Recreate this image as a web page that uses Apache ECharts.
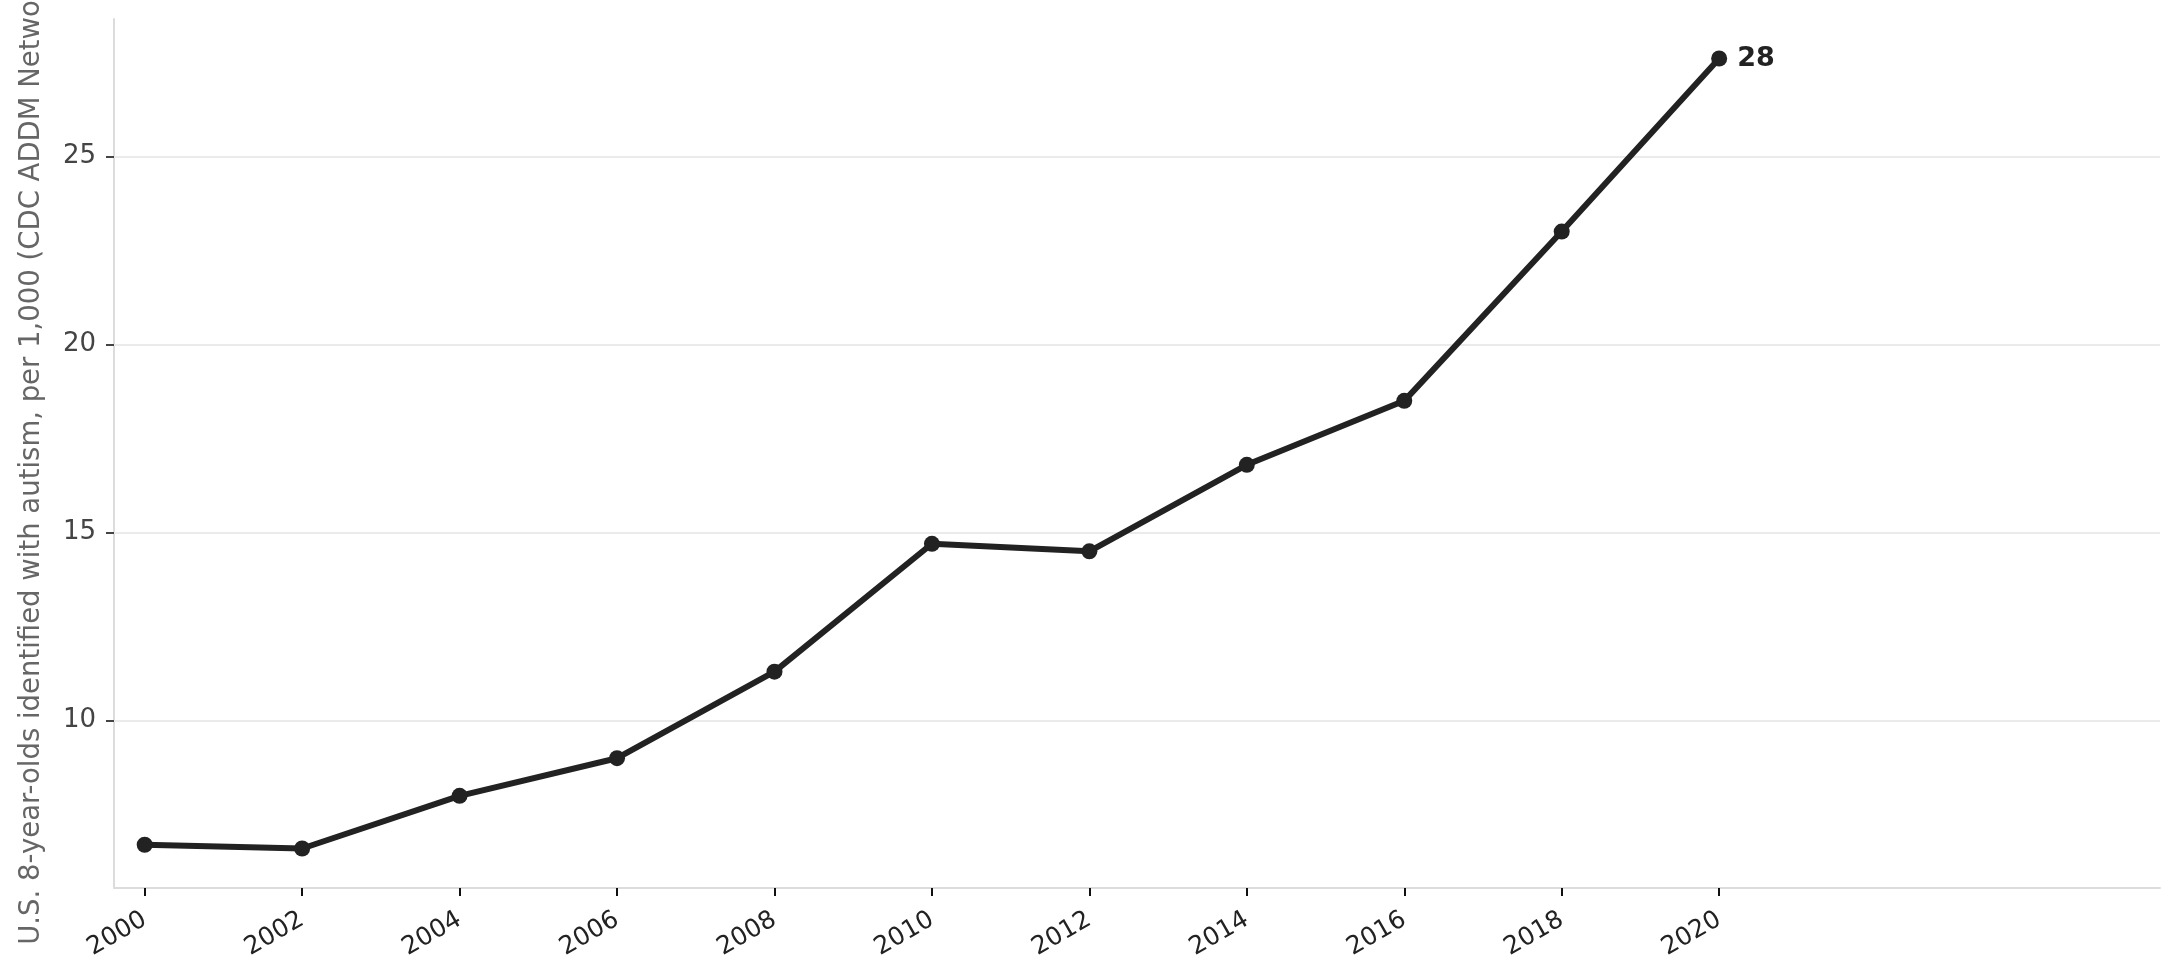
<!DOCTYPE html>
<html>
<head>
<meta charset="utf-8">
<script src="https://cdn.jsdelivr.net/npm/echarts@6/dist/echarts.min.js"></script>
<style>
html,body{margin:0;padding:0;background:#fff;}
#chart{width:2179px;height:980px;}
</style>
</head>
<body>
<div id="chart"></div>
<script>
const years = [2000, 2002, 2004, 2006, 2008, 2010, 2012, 2014, 2016, 2018, 2020];
const prevalence = [6.7, 6.6, 8.0, 9.0, 11.3, 14.7, 14.5, 16.8, 18.5, 23.0, 27.6];
const xTicks = [2000, 2002, 2004, 2006, 2008, 2010, 2012, 2014, 2016, 2018, 2020];
const yTicks = [10, 15, 20, 25];
const yLabel = 'U.S. 8-year-olds identified with autism, per 1,000 (CDC ADDM Network)';

const font = 'DejaVu Sans';
const seriesData = years.map((y, i) => {
  const item = { value: [y, prevalence[i]] };
  if (i === years.length - 1) {
    item.label = {
      show: true, position: 'right', distance: 10,
      formatter: p => String(Math.round(p.value[1])),
      fontFamily: font, fontSize: 27, fontWeight: 'bold', color: '#222'
    };
  }
  return item;
});

const chart = echarts.init(document.getElementById('chart'), null, { renderer: 'canvas' });
chart.setOption({
  animation: false,
  backgroundColor: '#fff',
  grid: { left: 114, right: 19, top: 19, bottom: 92, containLabel: false, outerBoundsMode: 'none' },
  xAxis: {
    type: 'value', min: 1999.61, max: 2025.6,
    splitLine: { show: false },
    axisLine: { show: true, lineStyle: { color: '#dcdcdc', width: 2 } },
    axisTick: { show: true, customValues: xTicks, length: 8, lineStyle: { color: '#111', width: 2 } },
    axisLabel: { customValues: xTicks, rotate: 30, margin: 30, fontFamily: font, fontSize: 25, color: '#222',
                 formatter: v => String(v) }
  },
  yAxis: {
    type: 'value', min: 5.55, max: 28.65,
    name: yLabel, nameLocation: 'middle', nameRotate: 90, nameGap: 68,
    nameTextStyle: { fontFamily: font, fontSize: 27.5, color: '#666' },
    splitLine: { show: false },
    axisLine: { show: true, lineStyle: { color: '#dcdcdc', width: 2 } },
    axisTick: { show: true, customValues: yTicks, length: 8, lineStyle: { color: '#444', width: 2 } },
    axisLabel: { customValues: yTicks, margin: 18, fontFamily: font, fontSize: 26, color: '#444',
                 formatter: v => String(v) }
  },
  series: [
    {
      type: 'line', data: [], z: 1, silent: true,
      markLine: {
        z: 1, silent: true, symbol: 'none', label: { show: false },
        lineStyle: { color: '#ebebeb', width: 2, type: 'solid' },
        data: yTicks.map(v => ({ yAxis: v }))
      }
    },
    {
      type: 'line', z: 3, data: seriesData,
      symbol: 'circle', symbolSize: 16,
      lineStyle: { color: '#222', width: 6 },
      itemStyle: { color: '#222' },
      label: { show: false }
    }
  ]
});
</script>
</body>
</html>
